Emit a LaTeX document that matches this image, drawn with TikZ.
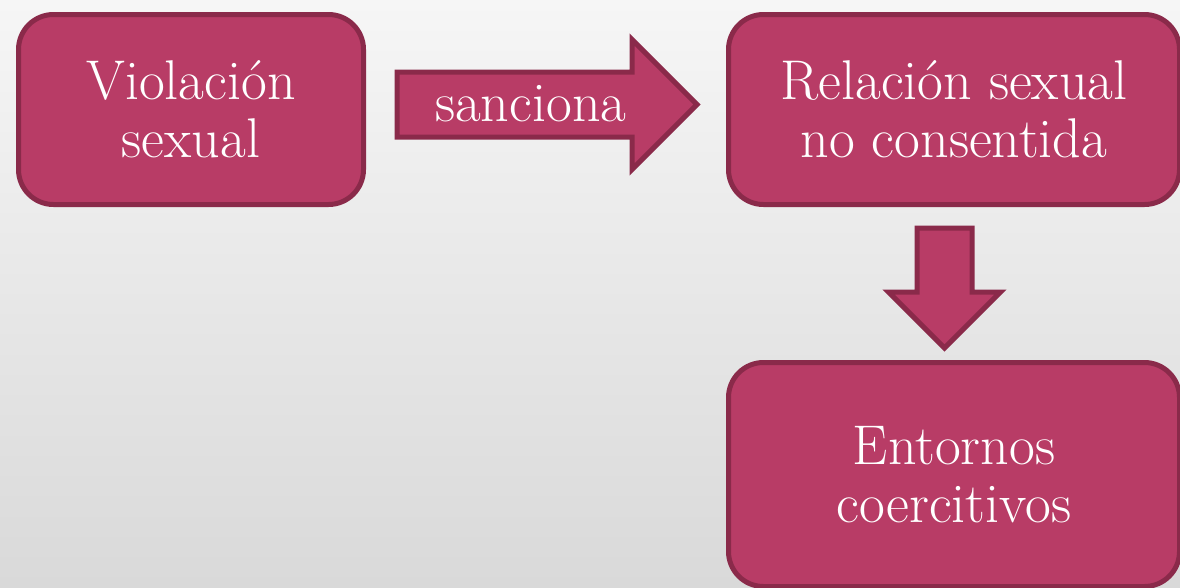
\documentclass[tikz,border=0pt]{standalone}
\usepackage{fontspec}
\usetikzlibrary{shapes.arrows}
\definecolor{boxfill}{RGB}{184,60,102}
\definecolor{boxline}{RGB}{138,42,74}
\definecolor{bgtop}{RGB}{246,246,246}
\definecolor{bgbottom}{RGB}{217,217,217}
\tikzset{
  block/.style={draw=boxline, line width=5pt, fill=boxfill, rounded corners=35pt,
    text=white, align=center, font=\fontsize{56}{58}\selectfont,
    minimum height=190pt},
  fatarrow/.style={single arrow, draw=boxline, line width=5pt, fill=boxfill,
    text=white, font=\fontsize{56}{58}\selectfont, single arrow head indent=0pt}
}
\begin{document}
\begin{tikzpicture}[x=1pt,y=-1pt]
\useasboundingbox (0,0) rectangle (1180,587);
\clip (0,0) rectangle (1180,587);
\shade[top color=bgtop, bottom color=bgbottom] (0,0) rectangle (1180,587);
% boxes
\node[block, minimum width=345pt] (violacion) at (191,109.5) {Violación\\sexual};
\node[block, minimum width=451pt] (relacion) at (954,109.5) {Relación sexual\\no consentida};
\node[block, minimum width=451pt, minimum height=224pt] (entornos) at (954,474.5) {Entornos\\coercitivos};
% big arrows
\node[fatarrow, anchor=tail, minimum height=300pt, text height=34pt, text depth=0pt,
  inner ysep=13pt, inner xsep=2pt, single arrow head extend=32.5pt] (sanciona) at (394.5,104.5) {sanciona};
\node[fatarrow, anchor=tail, shape border rotate=270, minimum height=120pt,
  inner sep=25pt, single arrow head extend=28.5pt] (abajo) at (944.5,225.5) {};
\end{tikzpicture}
\end{document}
